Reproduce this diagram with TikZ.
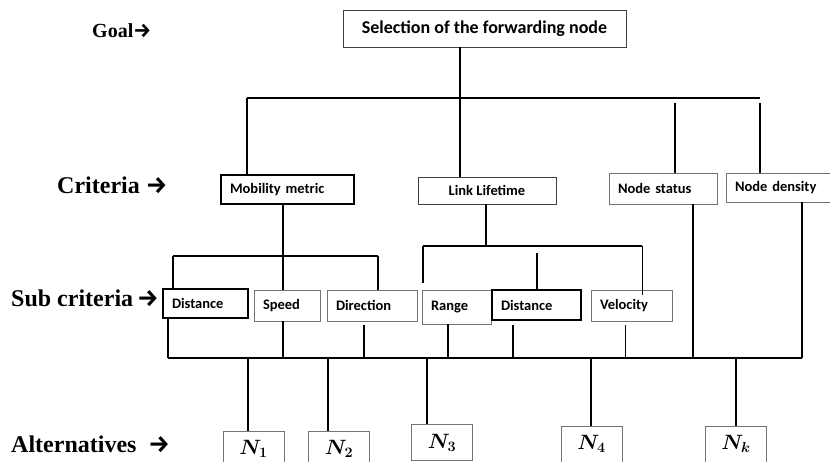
\documentclass[tikz,border=0pt]{standalone}
\usepackage{bm}
\usepackage{fontspec}
\setmainfont{Liberation Serif}
\newfontfamily\calib{Carlito}
\newfontfamily\arrowfont{Fira Sans}
\begin{document}
\begin{tikzpicture}[x=1pt,y=-1pt]
        \tikzstyle{box}=[draw=black!55,line width=0.9pt,inner xsep=9pt,inner ysep=0pt,align=left,font=\calib\bfseries\fontsize{14.5}{16}\selectfont]
        \tikzstyle{heavy}=[box,draw=black,line width=1.8pt]
        \tikzstyle{alt}=[box,align=center,minimum width=61,minimum height=36,font=\fontsize{22}{24}\selectfont]
        \tikzstyle{level}=[anchor=base west,inner sep=0pt,font=\bfseries\fontsize{24}{26}\selectfont]
        \tikzstyle{wire}=[draw,line width=1.6pt]
        \tikzstyle{bus}=[draw,line width=2.2pt]
        \useasboundingbox (0,0) rectangle (830,462);

        % level labels
        \node [level,font=\bfseries\fontsize{20}{22}\selectfont] (lgoal) at (92,38) {Goal{\arrowfont →}};
        \node [level] (lcrit) at (57,194) {Criteria {\arrowfont →}};
        \node [level] (lsub) at (11,307) {Sub criteria\,{\arrowfont →}};
        \node [level] (lalt) at (11,452) {Alternatives\ \ {\arrowfont →}};

        % goal
        \node [box,draw=black!75,align=center,minimum width=283,minimum height=37,font=\calib\bfseries\fontsize{18}{20}\selectfont] (goal) at (484.5,28.5) {Selection of the forwarding node};

        % criteria
        \node [heavy,text width=115,minimum height=29] (mob) at (287.5,189.5) {Mobility metric};
        \node [box,draw=black!75,align=center,minimum width=138,minimum height=27] (link) at (487,190.5) {Link Lifetime};
        \node [box,text width=90,minimum height=31] (stat) at (663,188.5) {Node status};
        \node [box,text width=92,minimum height=29] (dens) at (781,187.5) {Node density};

        % sub criteria
        \node [heavy,text width=67,minimum height=29] (dist1) at (205.5,303.5) {Distance};
        \node [box,text width=48,minimum height=31] (speed) at (287,305.5) {Speed};
        \node [box,text width=72,minimum height=31] (dir) at (372,305.5) {Direction};
        \node [box,text width=51,minimum height=34] (range) at (456.5,307) {Range};
        \node [heavy,text width=71,minimum height=30] (dist2) at (536.5,305) {Distance};
        \node [box,text width=63,minimum height=31] (velo) at (631.5,305.5) {Velocity};

        % alternatives
        \node [alt] (n1) at (253.5,449) {$\bm{N_1}$};
        \node [alt] (n2) at (339,449) {$\bm{N_2}$};
        \node [alt] (n3) at (442,442.5) {$\bm{N_3}$};
        \node [alt] (n4) at (591.5,444) {$\bm{N_4}$};
        \node [alt] (nk) at (736,444) {$\bm{N_k}$};

        % goal to criteria
        \coordinate (t0) at (460,98);
        \coordinate (t1) at (247,98);
        \coordinate (t2) at (675,98);
        \coordinate (t3) at (760,98);
        \path[bus] (t1) -- (t3);
        \path[wire] (goal.south -| t0) -- (t0);
        \path[wire] (t1) -- (mob.north -| t1);
        \path[wire] (t0) -- (link.north -| t0);
        \path[wire,shorten <=5pt] (t2) -- (stat.north -| t2);
        \path[wire,shorten <=5pt] (t3) -- (dens.north -| t3);

        % mobility metric to sub criteria
        \coordinate (m0) at (283,256);
        \coordinate (m1) at (173,256);
        \coordinate (m3) at (378,256);
        \path[bus] (m1) -- (m3);
        \path[wire] (mob.south -| m0) -- (m0);
        \path[wire] (m1) -- (dist1.north -| m1);
        \path[wire] (m0) -- (speed.north -| m0);
        \path[wire] (m3) -- (dir.north -| m3);

        % link lifetime to sub criteria
        \coordinate (l0) at (486,246);
        \coordinate (l1) at (423,246);
        \coordinate (l2) at (537,246);
        \coordinate (l3) at (642,246);
        \path[bus] (l1) -- (l3);
        \path[wire] (link.south -| l0) -- (l0);
        \path[wire,shorten >=7pt] (l1) -- (range.north -| l1);
        \path[wire,shorten <=7pt] (l2) -- (dist2.north -| l2);
        \path[draw,line width=0.8pt,shorten >=-5pt] (l3) -- (velo.north -| l3);

        % sub criteria to alternatives
        \coordinate (b1) at (168,358);
        \coordinate (b2) at (283,358);
        \coordinate (b3) at (364,358);
        \coordinate (b4) at (448,358);
        \coordinate (b5) at (513,358);
        \coordinate (b6) at (625,358);
        \coordinate (b7) at (693,358);
        \coordinate (b8) at (802,358);
        \path[bus] (b1) -- (b8);
        \path[wire] (dist1.south -| b1) -- (b1);
        \path[wire] (speed.south -| b2) -- (b2);
        \path[wire,shorten <=4pt] (dir.south -| b3) -- (b3);
        \path[wire] (range.south -| b4) -- (b4);
        \path[wire,shorten <=4pt] (dist2.south -| b5) -- (b5);
        \path[draw,line width=0.8pt,shorten <=4pt] (velo.south -| b6) -- (b6);
        \path[wire] (stat.south -| b7) -- (b7);
        \path[wire] (dens.south -| b8) -- (b8);

        \coordinate (a1) at (248,358);
        \coordinate (a2) at (328,358);
        \coordinate (a3) at (427,358);
        \coordinate (a4) at (591,358);
        \coordinate (a5) at (736,358);
        \path[wire] (a1) -- (n1.north -| a1);
        \path[wire] (a2) -- (n2.north -| a2);
        \path[wire] (a3) -- (n3.north -| a3);
        \path[wire] (a4) -- (n4.north -| a4);
        \path[wire] (a5) -- (nk.north -| a5);
\end{tikzpicture}
\end{document}
